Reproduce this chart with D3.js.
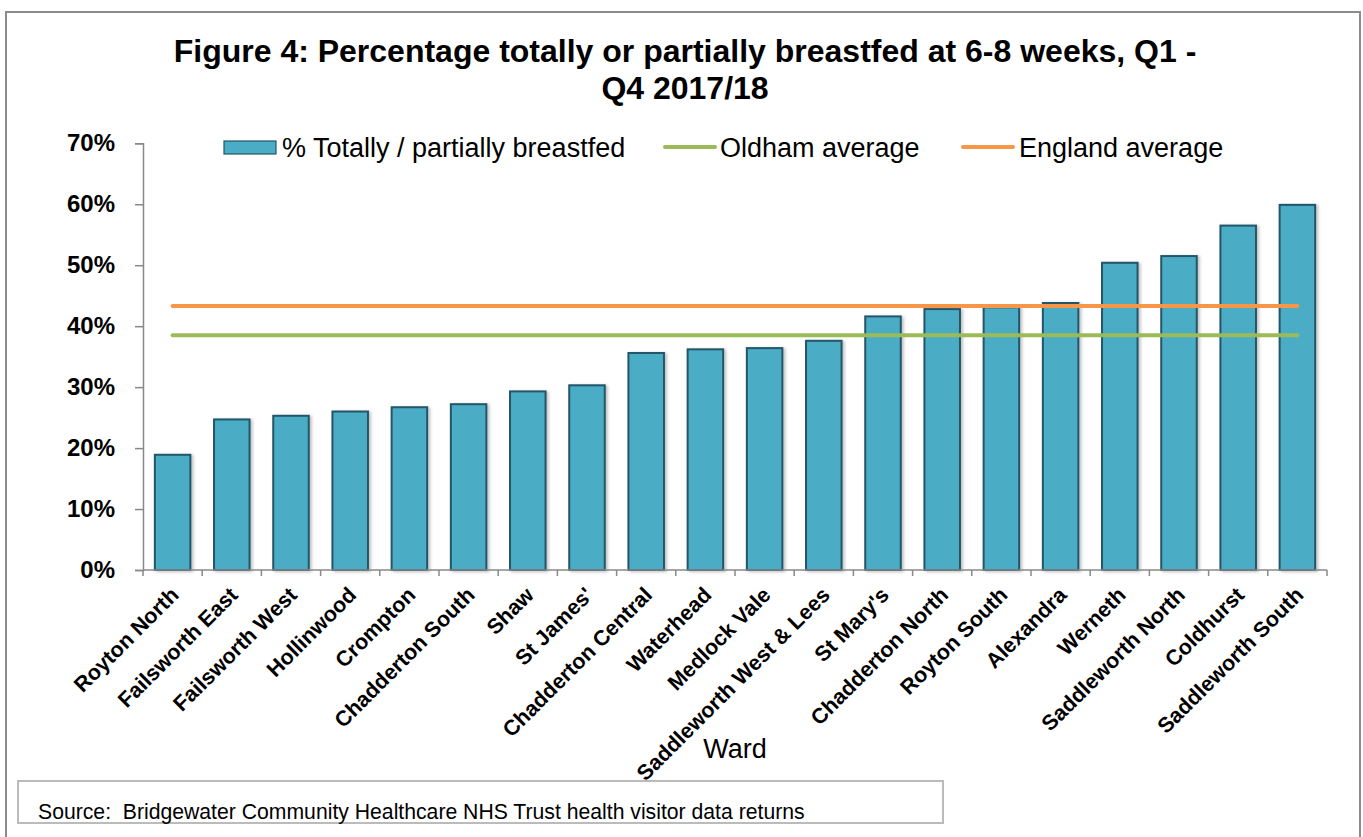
<!DOCTYPE html>
<html>
<head>
<meta charset="utf-8">
<script src="https://cdn.jsdelivr.net/npm/d3@7"></script>
<style>
  body { margin: 0; background: #fff; }
  text { font-family: "Liberation Sans", Arial, sans-serif; fill: #000; }
</style>
</head>
<body>
<div id="chart"></div>
<script>
// wards, sorted low to high
let wards = ["Royton North", "Failsworth East", "Failsworth West", "Hollinwood", "Crompton",
  "Chadderton South", "Shaw", "St James'", "Chadderton Central", "Waterhead", "Medlock Vale",
  "Saddleworth West & Lees", "St Mary's", "Chadderton North", "Royton South", "Alexandra",
  "Werneth", "Saddleworth North", "Coldhurst", "Saddleworth South"]

let breastfed = [18.9, 24.7, 25.3, 26.0, 26.7, 27.2, 29.3, 30.3, 35.6, 36.2, 36.4,
  37.6, 41.6, 42.8, 43.1, 43.8, 50.4, 51.5, 56.5, 59.9]

let oldhamAvg = 38.5
let englandAvg = 43.3

let yTicks = [0, 10, 20, 30, 40, 50, 60, 70]

let titleLines = ["Figure 4: Percentage totally or partially breastfed at 6-8 weeks, Q1 -", "Q4 2017/18"]
let legendItems = ["% Totally / partially breastfed", "Oldham average", "England average"]
let sourceText = "Source:  Bridgewater Community Healthcare NHS Trust health visitor data returns"

let width = 1363
let height = 837
let plot = {left: 143, right: 1327, top: 143.3, bottom: 570}

let svg = d3.select('#chart')
            .append('svg')
            .attr('width', width)
            .attr('height', height)

// outer chart border
svg.append('rect')
    .attr('x', 6).attr('y', 12)
    .attr('width', 1354).attr('height', 840)
    .attr('fill', 'none')
    .attr('stroke', '#8c8c8c')
    .attr('stroke-width', 2)

// title
svg.append('g').selectAll('text')
    .data(titleLines)
    .enter().append('text')
    .attr('x', 685)
    .attr('y', (d, i) => 62 + i * 37)
    .attr('text-anchor', 'middle')
    .style('font-size', '32px')
    .style('font-weight', 'bold')
    .text(d => d)

let x = d3.scaleBand()
    .domain(wards)
    .range([plot.left, plot.right])
    .paddingInner(0.4)
    .paddingOuter(0.2)

let y = d3.scaleLinear()
    .domain([0, 70])
    .range([plot.bottom, plot.top])

let defs = svg.append('defs')
let shadow = defs.append('filter').attr('id', 'shadow')
    .attr('x', '-20%').attr('y', '-5%').attr('width', '150%').attr('height', '115%')
shadow.append('feDropShadow')
    .attr('dx', 2).attr('dy', 1).attr('stdDeviation', 1.5)
    .attr('flood-color', '#000').attr('flood-opacity', 0.25)

// bars
svg.append('g').selectAll('rect')
    .data(breastfed)
    .enter().append('rect')
    .attr('x', (d, i) => x(wards[i]))
    .attr('y', d => y(d))
    .attr('width', x.bandwidth())
    .attr('height', d => y(0) - y(d))
    .attr('fill', '#4bacc6')
    .attr('stroke', '#215667')
    .attr('stroke-width', 2)
    .attr('filter', 'url(#shadow)')

// average lines
let avgLine = d3.line()
    .x(d => x(d.ward) + x.bandwidth() / 2)
    .y(d => y(d.value))

let averages = [
  {value: oldhamAvg, color: '#9bbb59'},
  {value: englandAvg, color: '#f79646'}
]
svg.append('g').selectAll('path')
    .data(averages)
    .enter().append('path')
    .attr('d', a => avgLine(wards.map(w => ({ward: w, value: a.value}))))
    .attr('fill', 'none')
    .attr('stroke', a => a.color)
    .attr('stroke-width', 4)
    .attr('stroke-linecap', 'round')

// y axis
let yAxis = d3.axisLeft(y)
    .tickValues(yTicks)
    .tickFormat(d => d + '%')
    .tickSize(8)
    .tickPadding(20)

let yG = svg.append('g')
    .attr('transform', 'translate(' + plot.left + ',0)')
    .call(yAxis)
yG.select('.domain').attr('stroke', '#888').attr('stroke-width', 1.5)
yG.selectAll('.tick line').attr('stroke', '#888').attr('stroke-width', 1.5)
yG.selectAll('text')
    .style('font-size', '24px')
    .style('font-weight', 'bold')
    .style('font-family', '"Liberation Sans", Arial, sans-serif')
    .attr('fill', '#000')

// x axis, ticks between categories
let xG = svg.append('g')
    .attr('transform', 'translate(0,' + plot.bottom + ')')
xG.append('line')
    .attr('x1', plot.left).attr('x2', plot.right)
    .attr('stroke', '#888').attr('stroke-width', 1.5)
let boundaries = d3.range(wards.length + 1).map(i => plot.left + (plot.right - plot.left) * i / wards.length)
xG.selectAll('.xtick')
    .data(boundaries)
    .enter().append('line')
    .attr('x1', d => d).attr('x2', d => d)
    .attr('y1', 0).attr('y2', 6)
    .attr('stroke', '#888').attr('stroke-width', 1.5)

xG.selectAll('.xlabel')
    .data(wards)
    .enter().append('text')
    .attr('transform', d => 'translate(' + (x(d) + x.bandwidth() / 2 + 2) + ',21) rotate(-45)')
    .attr('text-anchor', 'end')
    .attr('dy', '0.35em')
    .style('font-size', '21.5px')
    .style('font-weight', 'bold')
    .text(d => d)

// axis title
svg.append('text')
    .attr('x', (plot.left + plot.right) / 2)
    .attr('y', 758)
    .attr('text-anchor', 'middle')
    .style('font-size', '27px')
    .text('Ward')

// legend
let legend = svg.append('g')
legend.append('rect')
    .attr('x', 224).attr('y', 141)
    .attr('width', 52).attr('height', 13)
    .attr('fill', '#4bacc6').attr('stroke', '#215667').attr('stroke-width', 1.2)
legend.append('line')
    .attr('x1', 665).attr('x2', 715).attr('y1', 147).attr('y2', 147)
    .attr('stroke', averages[0].color).attr('stroke-width', 4).attr('stroke-linecap', 'round')
legend.append('line')
    .attr('x1', 963).attr('x2', 1013).attr('y1', 147).attr('y2', 147)
    .attr('stroke', averages[1].color).attr('stroke-width', 4).attr('stroke-linecap', 'round')
let legendX = [282, 720, 1019]
legend.selectAll('text')
    .data(legendItems)
    .enter().append('text')
    .attr('x', (d, i) => legendX[i])
    .attr('y', 157)
    .style('font-size', '27px')
    .text(d => d)

// source box
svg.append('rect')
    .attr('x', 18).attr('y', 781)
    .attr('width', 925).attr('height', 42)
    .attr('fill', '#fff')
    .attr('stroke', '#bbb')
    .attr('stroke-width', 2)
svg.append('text')
    .attr('x', 38)
    .attr('y', 819)
    .style('font-size', '21.2px')
    .style('white-space', 'pre')
    .text(sourceText)
</script>
</body>
</html>
